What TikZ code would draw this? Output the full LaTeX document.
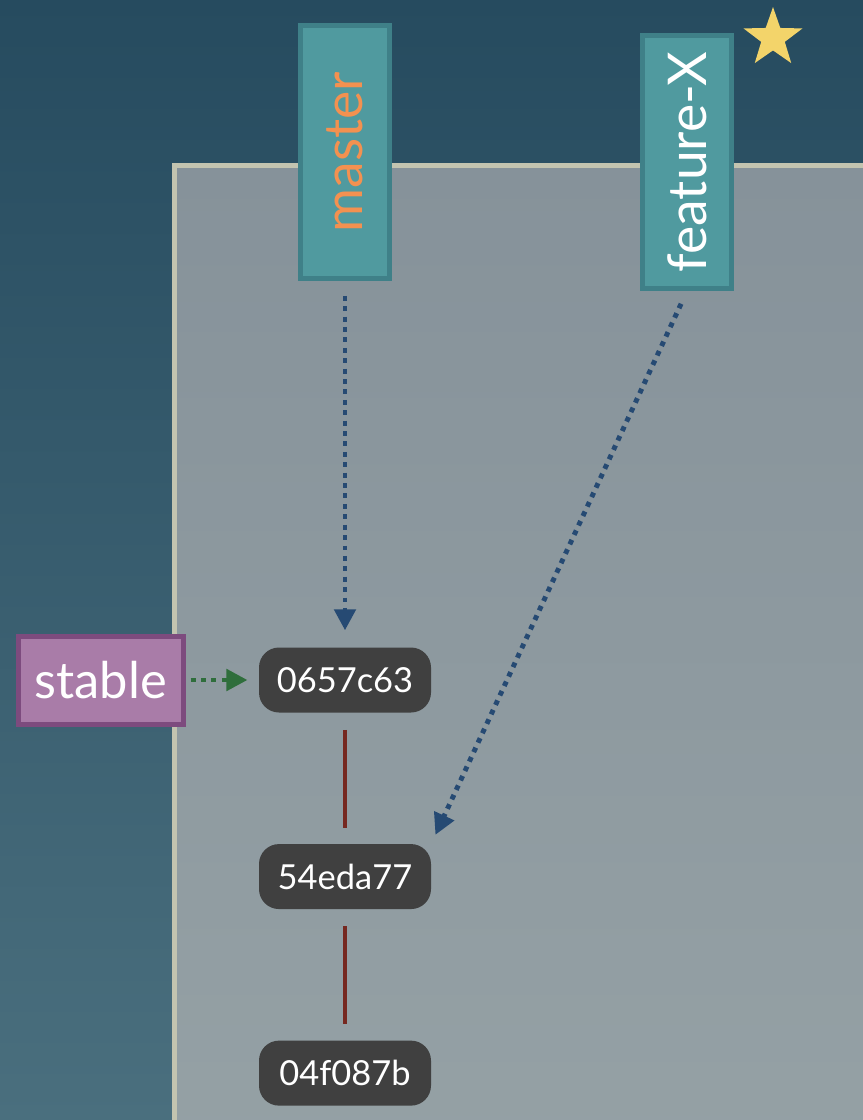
\documentclass[tikz,border=0pt]{standalone}
\usepackage{fontspec}
\setmainfont{Lato}
\usetikzlibrary{positioning,arrows.meta,shapes.geometric}

\definecolor{bgtop}{HTML}{264B5F}
\definecolor{bgbottom}{HTML}{4A6F7E}
\definecolor{paneltop}{HTML}{86929A}
\definecolor{panelbottom}{HTML}{95A1A5}
\definecolor{panelrim}{HTML}{C3C4B0}
\definecolor{branchfill}{HTML}{509A9F}
\definecolor{branchrim}{HTML}{3F8088}
\definecolor{tagfill}{HTML}{A97CA8}
\definecolor{tagrim}{HTML}{7D4B7E}
\definecolor{commitfill}{HTML}{404040}
\definecolor{parentline}{HTML}{762820}
\definecolor{refblue}{HTML}{264A73}
\definecolor{refgreen}{HTML}{2F6E3C}
\definecolor{headorange}{HTML}{F39150}
\definecolor{staryellow}{HTML}{F3D46A}

\newlength\pu
\setlength\pu{0.025cm}

\begin{document}
\begin{tikzpicture}[x=1\pu,y=-1\pu,node distance=131\pu,
  branch/.style={draw=branchrim,fill=branchfill,line width=5\pu,rotate=90,
    minimum width=253\pu,minimum height=89\pu,font=\fontsize{38}{38}\selectfont},
  tag/.style={draw=tagrim,fill=tagfill,line width=5\pu,text=white,
    minimum width=165\pu,minimum height=88\pu,font=\fontsize{36}{36}\selectfont},
  commit/.style={fill=commitfill,rounded corners=20\pu,text=white,
    minimum width=172\pu,minimum height=65\pu,font=\fontsize{24.5}{24.5}\selectfont},
  parent/.style={draw=parentline,line width=4\pu},
  refline/.style={line width=3.5pt,dash pattern=on 3.5pt off 3.9pt,
    -{Triangle[length=15pt,width=15pt]}}]
  \useasboundingbox (0,0) rectangle (863,1120);
  \clip (0,0) rectangle (863,1120);

  % backdrop and repository panel
  \shade[top color=bgtop,bottom color=bgbottom] (0,0) rectangle (863,1120);
  \shadedraw[top color=paneltop,bottom color=panelbottom,draw=panelrim,line width=5\pu]
    (174.5,165.5) rectangle (900,1160);

  % commits
  \node[commit] (c0657)                    at (345,680) {0657c63};
  \node[commit] (c54ed) [below=of c0657]   {54eda77};
  \node[commit] (c04f0) [below=of c54ed]   {04f087b};

  % branches and tag
  \node[branch,text=headorange] (master)   at (345,152) {master};
  \node[branch,text=white]      (featureX) at (687,162) {feature-X};
  \node[tag]                    (stable) [left=73\pu of c0657] {stable};
  \node[star,star points=5,star point ratio=2.5,fill=staryellow,
    minimum size=62\pu,inner sep=0pt] (current) at (773,38) {};

  % history
  \draw[parent,shorten <=17\pu,shorten >=16\pu] (c0657.south) -- (c54ed.north);
  \draw[parent,shorten <=17\pu,shorten >=16\pu] (c54ed.south) -- (c04f0.north);

  % references
  \draw[refline,refblue,shorten <=10.5pt,shorten >=12pt] (master.west) -- (c0657.north);
  \draw[refline,refblue,shorten <=10pt,shorten >=7pt] (featureX.west) -- (c54ed.north east);
  \draw[refline,refgreen,shorten <=3.5pt,shorten >=8pt] (stable.east) -- (c0657.west);
\end{tikzpicture}
\end{document}
